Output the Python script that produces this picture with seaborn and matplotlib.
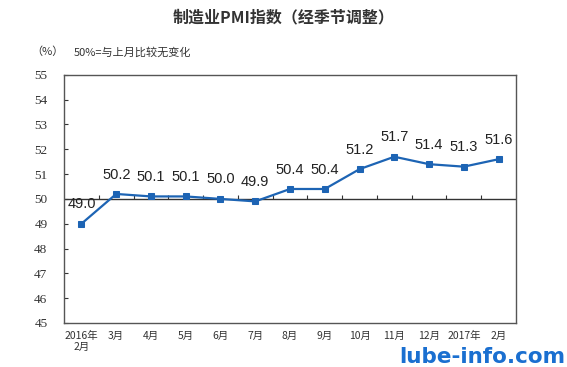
import matplotlib
matplotlib.use('Agg')
import matplotlib.pyplot as plt
import seaborn as sns
import numpy as np
import pandas as pd

# Data
months = ['2016年\n2月', '3月', '4月', '5月', '6月', '7月', '8月', '9月',
          '10月', '11月', '12月', '2017年', '2月']
pmi = [49.0, 50.2, 50.1, 50.1, 50.0, 49.9, 50.4, 50.4, 51.2, 51.7, 51.4, 51.3, 51.6]
y_ticks = [45, 46, 47, 48, 49, 50, 51, 52, 53, 54, 55]

df = pd.DataFrame({'idx': np.arange(len(pmi)), 'PMI': pmi})

sns.set_style('white')
plt.rcParams['font.family'] = ['Noto Sans CJK SC', 'DejaVu Sans']

LINE = '#1d64b4'

fig = plt.figure(figsize=(5.67, 3.67), dpi=100)
ax = fig.add_axes([0.113, 0.12, 0.797, 0.676])

sns.lineplot(data=df, x='idx', y='PMI', ax=ax, color=LINE, linewidth=1.6,
             marker='s', markersize=4, markeredgecolor=LINE, markerfacecolor=LINE)

# 50 reference line acting as x axis
ax.axhline(50, color='#333333', linewidth=1.0, zorder=1)
ax.vlines(np.arange(len(pmi) - 1) + 0.5, 50, 50.15, color='#333333', linewidth=0.8, zorder=1)

# data labels
for i, v in enumerate(pmi):
    ax.annotate(f'{v:.1f}', (i, v), xytext=(0, 14), textcoords='offset points',
                ha='center', va='center', fontsize=10.5, color='#222222',
                family=['Liberation Sans', 'DejaVu Sans'])

ax.set_xlim(-0.5, len(pmi) - 0.5)
ax.set_ylim(45, 55)
ax.set_yticks(y_ticks)
ax.set_yticklabels([str(t) for t in y_ticks], family=['Liberation Serif', 'DejaVu Serif'],
                   fontsize=9.5, color='#333333')
ax.set_xticks(np.arange(len(pmi)))
ax.set_xticklabels(months, fontsize=7.5, color='#333333', linespacing=1.05)
ax.tick_params(axis='y', direction='in', length=3, pad=12, left=True, color='#333333')
ax.tick_params(axis='x', length=0, pad=6)
ax.set_xlabel('')
ax.set_ylabel('')
for sp in ax.spines.values():
    sp.set_color('#555555')
    sp.set_linewidth(1.0)

fig.text(0.5, 0.952, '制造业PMI指数（经季节调整）', ha='center', va='center',
         fontsize=11.5, fontweight='bold', color='#333333')
fig.text(0.055, 0.858, '（%）', ha='left', va='center', fontsize=8, color='#333333')
fig.text(0.13, 0.858, '50%=与上月比较无变化', ha='left', va='center', fontsize=8, color='#333333')
fig.text(0.997, 0.026, 'lube-info.com', ha='right', va='center', fontsize=15.5,
         fontweight='bold', color='#1a6fd0', family=['DejaVu Sans'])

fig.savefig('out.png', dpi=100)
